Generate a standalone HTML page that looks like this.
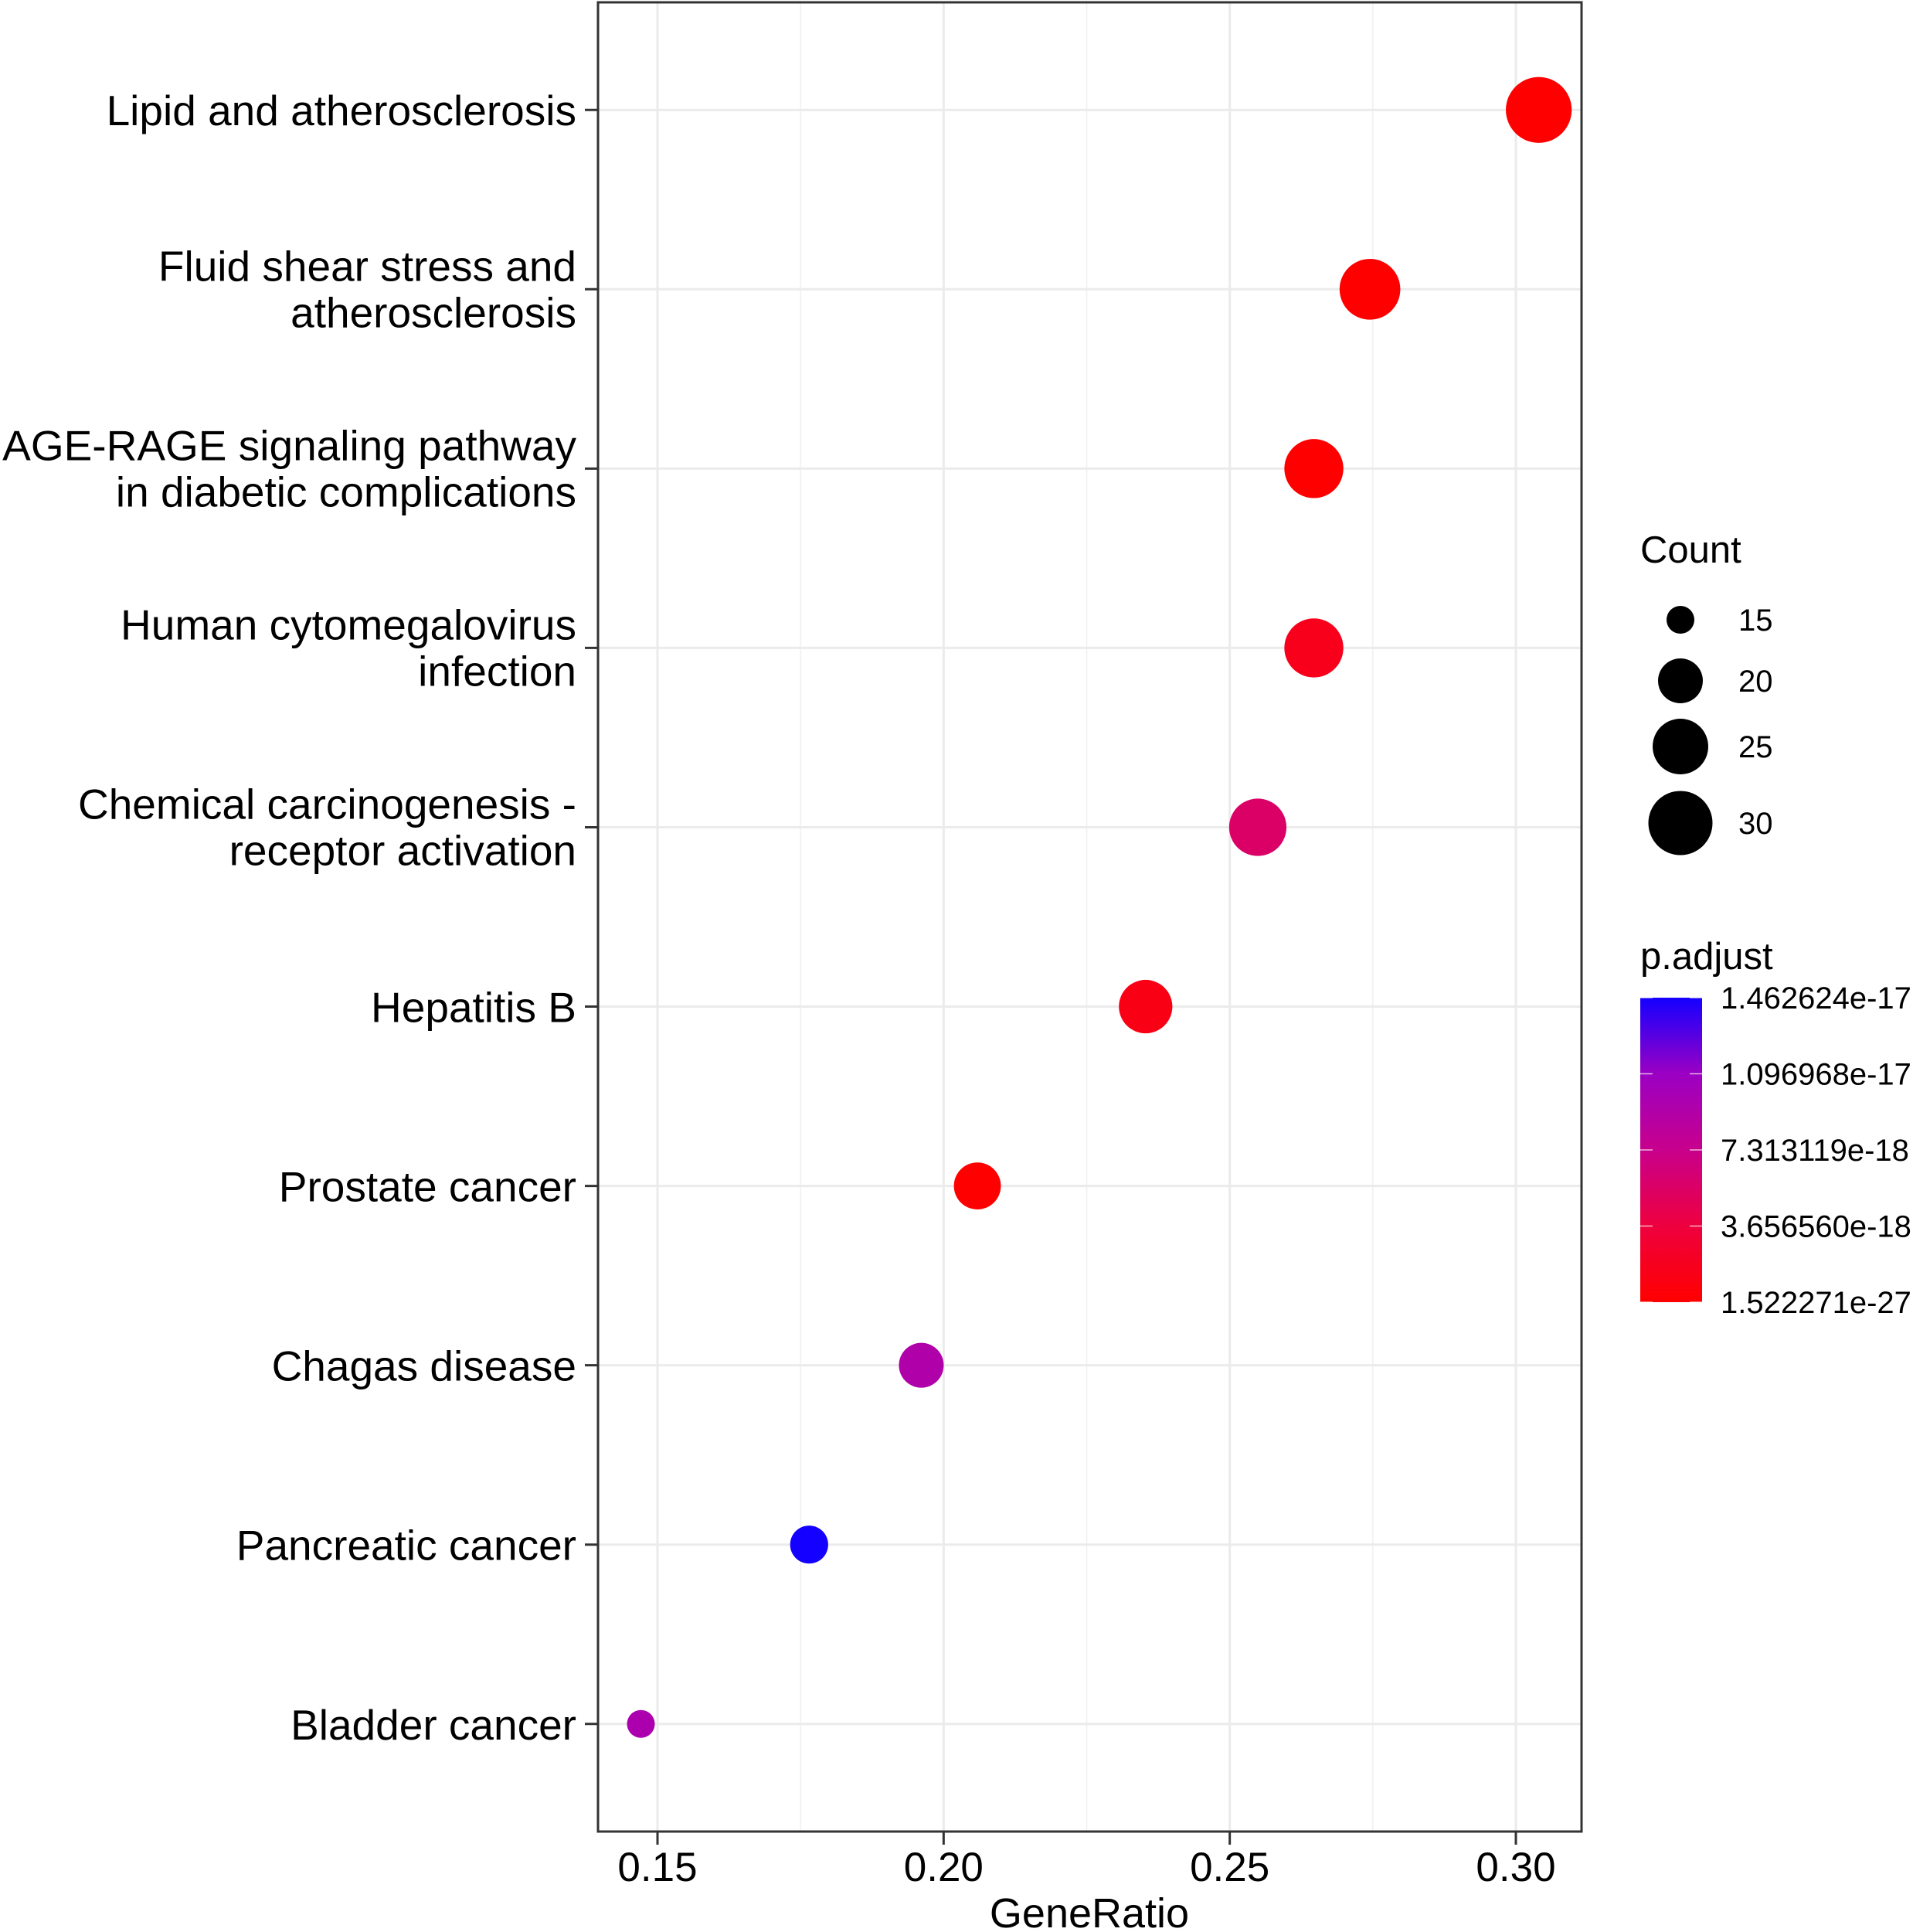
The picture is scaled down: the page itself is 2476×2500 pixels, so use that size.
<!DOCTYPE html>
<html><head><meta charset="utf-8"><style>
html,body{margin:0;padding:0;background:#fff;}
svg{display:block;font-family:"Liberation Sans",Arial,sans-serif;}
</style></head><body>
<svg id="chart" width="2476" height="2500" viewBox="0 0 2476 2500" xmlns="http://www.w3.org/2000/svg">
<rect width="2476" height="2500" fill="#fff"/>
<g id="grid"></g>
<g id="dots"></g>
<rect x="774" y="3" width="1273" height="2367" fill="none" stroke="#333" stroke-width="3"/>
<g id="yaxis"></g>
<g id="xaxis"></g>
<text x="1410" y="2494" font-size="54" text-anchor="middle" fill="#000">GeneRatio</text>
<g id="legend"></g>
</svg>
<script>
const categories = [
  ["Lipid and atherosclerosis"],
  ["Fluid shear stress and","atherosclerosis"],
  ["AGE-RAGE signaling pathway","in diabetic complications"],
  ["Human cytomegalovirus","infection"],
  ["Chemical carcinogenesis -","receptor activation"],
  ["Hepatitis B"],
  ["Prostate cancer"],
  ["Chagas disease"],
  ["Pancreatic cancer"],
  ["Bladder cancer"]
];
const geneRatio = [0.304, 0.2745, 0.2647, 0.2647, 0.2549, 0.2353, 0.2059, 0.1961, 0.1765, 0.1471];
const counts = [31, 28, 27, 27, 26, 24, 21, 20, 18, 15];
const pAdjust = [1.5e-27, 1e-22, 1e-20, 1.6e-18, 5.5e-18, 1.2e-18, 1e-25, 9.3e-18, 1.4626e-17, 9.6e-18];
const xTicks = [0.15, 0.20, 0.25, 0.30];
const xTickLabels = ["0.15", "0.20", "0.25", "0.30"];
const xMinor = [0.175, 0.225, 0.275];
const sizeBreaks = [15, 20, 25, 30];
const colorBreaks = [1.462624e-17, 1.096968e-17, 7.313119e-18, 3.656560e-18, 1.522271e-27];
const colorBreakLabels = ["1.462624e-17","1.096968e-17","7.313119e-18","3.656560e-18","1.522271e-27"];

const NS = "http://www.w3.org/2000/svg";
const PL = 774, PR = 2047, PT = 3, PB = 2370;
const X0 = 0.15, X1 = 0.30, XP0 = 851, XP1 = 1962;
function xScale(v){ return XP0 + (v - X0) * (XP1 - XP0) / (X1 - X0); }
const rowStep = (PB - PT) / (categories.length - 1 + 1.2);
function yScale(i){ return PT + rowStep * 0.6 + i * rowStep; }
const sizeR = [[15,18],[20,29],[25,36],[30,41.5]];
function rScale(c){
  const s = sizeR;
  if (c <= s[0][0]) return s[0][1] + (c - s[0][0]) * (s[1][1]-s[0][1])/(s[1][0]-s[0][0]);
  for (let k=0;k<s.length-1;k++){
    if (c <= s[k+1][0]) return s[k][1] + (c - s[k][0])*(s[k+1][1]-s[k][1])/(s[k+1][0]-s[k][0]);
  }
  const n=s.length-1; return s[n][1] + (c - s[n][0])*(s[n][1]-s[n-1][1])/(s[n][0]-s[n-1][0]);
}
const PMAX = 1.462624e-17, PMIN = 1.522271e-27;
const stops = [[0,[255,0,0]],[0.25,[238,0,62]],[0.5,[200,0,140]],[0.75,[155,0,195]],[1,[20,0,255]]];
function colorScale(p){
  let t = (p - PMIN)/(PMAX - PMIN); t = Math.max(0, Math.min(1, t));
  for (let k=0;k<stops.length-1;k++){
    const a=stops[k], b=stops[k+1];
    if (t <= b[0]){ const f=(t-a[0])/(b[0]-a[0]);
      const c=a[1].map((v,j)=>Math.round(v+(b[1][j]-v)*f));
      return "rgb("+c.join(",")+")"; }
  }
  return "rgb(20,0,255)";
}
function mk(tag, attrs, parent){
  const e = document.createElementNS(NS, tag);
  for (const k in attrs) e.setAttribute(k, attrs[k]);
  parent.appendChild(e); return e;
}
const grid = document.getElementById("grid");
xMinor.forEach(v=>{
  const l = mk("line",{x1:xScale(v),x2:xScale(v),y1:PT,y2:PB,stroke:"#f0f0f0","stroke-width":1.5},grid);
  
  
});
xTicks.forEach(v=>{
  const l = mk("line",{x1:xScale(v),x2:xScale(v),y1:PT,y2:PB,stroke:"#ebebeb","stroke-width":3},grid);
  
  
});
categories.forEach((c,i)=>{
  const l = mk("line",{x1:PL,x2:PR,y1:yScale(i),y2:yScale(i),stroke:"#ebebeb","stroke-width":3},grid);
  
  
});
const dots = document.getElementById("dots");
categories.forEach((c,i)=>{
  const d = mk("circle",{cx:xScale(geneRatio[i]),cy:yScale(i),r:rScale(counts[i]),fill:colorScale(pAdjust[i])},dots);
  
  
});
const ya = document.getElementById("yaxis");
categories.forEach((lines,i)=>{
  const y = yScale(i);
  const t = mk("line",{x1:757,x2:774,y1:y,y2:y,stroke:"#333","stroke-width":3},ya);
  
  
  lines.forEach((s,j)=>{
    const by = lines.length===1 ? y+20 : y - 11 + j*60;
    const tx = mk("text",{x:746,y:by,"font-size":55,"text-anchor":"end",fill:"#000"},ya);
    tx.textContent = s;
    
    
  });
});
const xa = document.getElementById("xaxis");
xTicks.forEach((v,i)=>{
  const x = xScale(v);
  const t = mk("line",{x1:x,x2:x,y1:PB,y2:PB+17,stroke:"#333","stroke-width":3},xa);
  
  
  const tx = mk("text",{x:x,y:2434,"font-size":53,"text-anchor":"middle",fill:"#000"},xa);
  tx.textContent = xTickLabels[i];
  
  
});
const lg = document.getElementById("legend");
const ct = mk("text",{x:2123,y:728,"font-size":49,fill:"#000"},lg);
ct.textContent = "Count";


const legY = [802, 881, 966, 1065];
sizeBreaks.forEach((c,k)=>{
  const d = mk("circle",{cx:2175,cy:legY[k],r:rScale(c),fill:"#000"},lg);
  
  
  const tx = mk("text",{x:2250,y:legY[k]+14,"font-size":40,fill:"#000"},lg);
  tx.textContent = String(c);
  
  
});
const pt = mk("text",{x:2123,y:1254,"font-size":49,fill:"#000"},lg);
pt.textContent = "p.adjust";


const defs = mk("defs",{},lg);
const grad = mk("linearGradient",{id:"pg",x1:0,y1:1,x2:0,y2:0},defs);
stops.forEach(s=>{ mk("stop",{offset:s[0],"stop-color":"rgb("+s[1].join(",")+")"},grad); });
const CB_T = 1291, CB_B = 1685;
const cb = mk("rect",{x:2123,y:CB_T,width:80,height:CB_B-CB_T,fill:"url(#pg)"},lg);


function cbY(p){ return CB_B - (p-PMIN)/(PMAX-PMIN)*(CB_B-CB_T); }
colorBreaks.forEach((p,k)=>{
  const y = cbY(p);
  const t1 = mk("line",{x1:2123,x2:2139,y1:y,y2:y,stroke:"#fff","stroke-width":1.5,opacity:0.7},lg);
  
  
  const t2 = mk("line",{x1:2187,x2:2203,y1:y,y2:y,stroke:"#fff","stroke-width":1.5,opacity:0.7},lg);
  
  
  const tx = mk("text",{x:2227,y:y+14,"font-size":40,fill:"#000"},lg);
  tx.textContent = colorBreakLabels[k];
  
  
});
</script>
</body></html>
